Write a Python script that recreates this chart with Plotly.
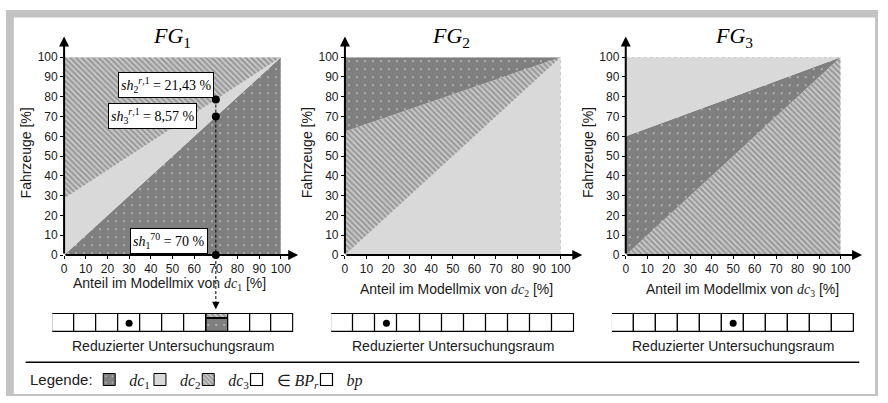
import plotly.graph_objects as go

W, H = 888, 403
def PX(x):
    return x / W
def PY(y):
    return 1 - y / H

# ---------------- data ----------------
MIX = [0, 100]                 # share of dc_n in the model mix [%]
FLOOR = [0, 0]
CEIL = [100, 100]
FG1_LOWER = [0, 100]           # boundary dc1 | dc2
FG1_UPPER = [28.57, 100]       # boundary dc2 | dc3
FG2_LOWER = [0, 100]           # boundary dc2 | dc3
FG2_UPPER = [62.5, 100]        # boundary dc3 | dc1
FG3_LOWER = [0, 100]           # boundary dc3 | dc1
FG3_UPPER = [60, 100]          # boundary dc1 | dc2
FG1_REGIONS = ["dc1", "dc2", "dc3"]   # bottom, middle, top
FG2_REGIONS = ["dc2", "dc3", "dc1"]
FG3_REGIONS = ["dc3", "dc1", "dc2"]

SEL_SHARE = 70
SEL_POINTS = [78.57, 70, 0]
SEL_LABELS = ["<i>sh</i><sub>2</sub><sup><i>r</i>,1</sup> = 21,43 %",
              "<i>sh</i><sub>3</sub><sup><i>r</i>,1</sup> = 8,57 %",
              "<i>sh</i><sub>1</sub><sup>70</sup> = 70 %"]
TICKS = list(range(0, 101, 10))

CELL_COUNT = 11
BP_CELL = [3, 2, 5]
SEL_CELL = 7
SEL_CELL_SHARES = [70, 8.57, 21.43]   # dc1, dc2, dc3 [%]

TITLES = ["<i>FG</i><sub>1</sub>", "<i>FG</i><sub>2</sub>", "<i>FG</i><sub>3</sub>"]
XTITLES = ["Anteil im Modellmix von <span style='font-family:Liberation Serif'><i>dc</i><sub>%d</sub></span> [%%]" % k for k in (1, 2, 3)]
YTITLE = "Fahrzeuge [%]"
STRIP_TITLE = "Reduzierter Untersuchungsraum"
DC_NAMES = ["<i>dc</i><sub>1</sub>", "<i>dc</i><sub>2</sub>", "<i>dc</i><sub>3</sub>"]

# ---------------- styles ----------------
DARK, LIGHT, HATCH_BG = "#7f7f7f", "#d9d9d9", "#cdcdcd"
STYLE = {
    "dc1": dict(color=DARK, pattern=dict(shape=".", bgcolor=DARK, fgcolor="white", size=8, solidity=0.05)),
    "dc2": dict(color=LIGHT, pattern=None),
    "dc3": dict(color=HATCH_BG, pattern=dict(shape="\\", bgcolor=HATCH_BG, fgcolor="#666666", size=4, solidity=0.55)),
}
SERIF = "Liberation Serif"
SANS = "Liberation Sans"
TXT = "#1a1a1a"

PANEL_X = [(62, 282), (347, 566), (632, 850)]
PANEL_Y = (257, 52)
STRIP_X = [(50, 295), (333, 580), (618, 864)]
STRIP_Y = (338, 317)      # pixel extent incl. small padding
STRIP_RANGE = [-0.05, 1.05]

fig = go.Figure()

panels = [(FG1_LOWER, FG1_UPPER, FG1_REGIONS),
          (FG2_LOWER, FG2_UPPER, FG2_REGIONS),
          (FG3_LOWER, FG3_UPPER, FG3_REGIONS)]

for i, (lower, upper, regions) in enumerate(panels):
    xa, ya = ("x", "y") if i == 0 else ("x%d" % (i + 1), "y%d" % (i + 1))
    bounds = [(FLOOR, lower), (lower, upper), (upper, CEIL)]
    for (lo, hi), dc in zip(bounds, regions):
        st = STYLE[dc]
        kw = dict(fillpattern=st["pattern"]) if st["pattern"] else {}
        fig.add_trace(go.Scatter(
            x=MIX + MIX[::-1], y=lo + hi[::-1], mode="lines", fill="toself",
            fillcolor=st["color"], line=dict(width=0), hoverinfo="skip",
            showlegend=False, xaxis=xa, yaxis=ya, **kw))

# selected point in FG1
fig.add_trace(go.Scatter(x=[SEL_SHARE, SEL_SHARE], y=[SEL_POINTS[0], SEL_POINTS[-1]], mode="lines",
                         line=dict(color="black", width=1, dash="3px,2px"), showlegend=False,
                         hoverinfo="skip", xaxis="x", yaxis="y", cliponaxis=False))
fig.add_trace(go.Scatter(x=[SEL_SHARE] * len(SEL_POINTS), y=SEL_POINTS, mode="markers",
                         marker=dict(color="black", size=8), showlegend=False,
                         xaxis="x", yaxis="y", cliponaxis=False))

# strips
for k in range(3):
    xa, ya = "x%d" % (k + 4), "y%d" % (k + 4)
    cell_x = [c + 0.5 for c in range(CELL_COUNT)]
    colors = ["white"] * CELL_COUNT
    if k == 0:
        base = 0
        for j, (dc, share) in enumerate(zip(["dc1", "dc2", "dc3"], SEL_CELL_SHARES)):
            st = STYLE[dc]
            mk = dict(color=st["color"], line=dict(width=1, color="black"))
            if st["pattern"]:
                mk["pattern"] = st["pattern"]
            fig.add_trace(go.Bar(x=[SEL_CELL + 0.5], y=[share / 100], base=[base / 100], width=[1],
                                 marker=mk, name=DC_NAMES[j], showlegend=True,
                                 legend="legend" if j == 0 else "legend%d" % (j + 1),
                                 xaxis=xa, yaxis=ya, cliponaxis=False, hoverinfo="skip"))
            base += share
        colors[SEL_CELL] = "rgba(0,0,0,0)"
    fig.add_trace(go.Bar(x=cell_x, y=[1] * CELL_COUNT, width=[1] * CELL_COUNT,
                         marker=dict(color=colors, line=dict(width=1.2, color="black")),
                         name="∈ <i>BP</i><sub><i>r</i></sub>" if k == 0 else " ",
                         showlegend=(k < 2), legend="legend4" if k == 0 else "legend5",
                         xaxis=xa, yaxis=ya, cliponaxis=False, hoverinfo="skip"))
    fig.add_trace(go.Scatter(x=[BP_CELL[k] + 0.5], y=[0.5], mode="markers",
                             marker=dict(color="black", size=7), name="<i>bp</i>",
                             showlegend=(k == 0), legend="legend6",
                             xaxis=xa, yaxis=ya, cliponaxis=False, hoverinfo="skip"))

layout = dict(width=W, height=H, margin=dict(l=0, r=0, t=0, b=0),
              paper_bgcolor="white", plot_bgcolor="rgba(0,0,0,0)",
              barmode="overlay", bargap=0, font=dict(family=SANS, color=TXT))

axis_common = dict(range=[0, 100], tickvals=TICKS, ticks="outside", ticklen=3, tickwidth=1,
                   tickcolor="black", showline=False, showgrid=False, zeroline=False,
                   tickfont=dict(size=12, color=TXT, family=SANS), fixedrange=True)
for i in range(3):
    sfx = "" if i == 0 else str(i + 1)
    layout["xaxis" + sfx] = dict(axis_common, domain=[PX(PANEL_X[i][0]), PX(PANEL_X[i][1])],
                                 anchor="y" + sfx)
    layout["yaxis" + sfx] = dict(axis_common, domain=[PY(PANEL_Y[0]), PY(PANEL_Y[1])],
                                 anchor="x" + sfx)
for k in range(3):
    sfx = str(k + 4)
    layout["xaxis" + sfx] = dict(range=[0, CELL_COUNT], domain=[PX(STRIP_X[k][0]), PX(STRIP_X[k][1])],
                                 visible=False, anchor="y" + sfx, fixedrange=True)
    layout["yaxis" + sfx] = dict(range=STRIP_RANGE, domain=[PY(STRIP_Y[0]), PY(STRIP_Y[1])],
                                 visible=False, anchor="x" + sfx, fixedrange=True)

# legends (swatch centre = x + 20 px)
LEG_Y = PY(386)
leg_centers = [107.5, 159, 208, 257, 328, 328]
names = ["legend", "legend2", "legend3", "legend4", "legend5", "legend6"]
for nm, cx in zip(names, leg_centers):
    layout[nm] = dict(x=PX(cx - 20), y=LEG_Y, xanchor="left", yanchor="middle",
                      orientation="h", bgcolor="rgba(0,0,0,0)", borderwidth=0,
                      font=dict(family=SERIF, size=16, color=TXT))

fig.update_layout(**layout)

ann = []
def txt(text, x, y, size=14, family=SANS, color=TXT, **kw):
    d = dict(text=text, x=PX(x), y=PY(y), xref="paper", yref="paper", showarrow=False,
             xanchor="center", yanchor="middle", font=dict(family=family, size=size, color=color))
    d.update(kw)
    return d

title_x = [172, 455, 742]
xt_pos = [(169, 287), (460, 293), (750, 293)]
yt_x = [23, 308, 593]
strip_cx = [172.5, 456.5, 741]
for i in range(3):
    ann.append(txt(TITLES[i], title_x[i], 31, size=22, family=SERIF, color="black"))
    ann.append(txt(XTITLES[i], xt_pos[i][0], xt_pos[i][1]))
    ann.append(txt(YTITLE, yt_x[i], 151, textangle=-90))
    ann.append(txt(STRIP_TITLE, strip_cx[i], 351))
    sfx = "" if i == 0 else str(i + 1)
    # axis arrows
    ann.append(dict(x=0, y=110.5, ax=0, ay=0, xref="x" + sfx, yref="y" + sfx, axref="x" + sfx,
                    ayref="y" + sfx, text="", showarrow=True, arrowhead=2, arrowsize=1,
                    arrowwidth=2, arrowcolor="black", standoff=0, startstandoff=0))
    ann.append(dict(x=108 if i == 0 else 110, y=0, ax=0, ay=0, xref="x" + sfx, yref="y" + sfx,
                    axref="x" + sfx, ayref="y" + sfx, text="", showarrow=True, arrowhead=2,
                    arrowsize=1, arrowwidth=2, arrowcolor="black", standoff=0, startstandoff=0))

# labels for selected point
lab_pos = [(46.9, 85.9), (41, 70.2), (48.3, 7.3)]
for (lx, ly), t in zip(lab_pos, SEL_LABELS):
    ann.append(dict(text=t, x=lx, y=ly, xref="x", yref="y", showarrow=False,
                    xanchor="center", yanchor="middle",
                    font=dict(family=SERIF, size=14, color="black"), bgcolor="white",
                    bordercolor="black", borderwidth=1, borderpad=2))
# arrow head to the strip cell
ann.append(dict(x=SEL_SHARE, y=PY(313), xref="x", yref="paper", ax=0, ay=-9, text="",
                showarrow=True, arrowhead=2, arrowsize=1, arrowwidth=1.5, arrowcolor="black",
                standoff=0))
ann.append(txt("Legende:", 25, 386, size=15, xanchor="left"))

shapes = [
    dict(type="rect", xref="paper", yref="paper", x0=PX(3), x1=PX(888), y0=PY(3), y1=PY(403),
         fillcolor="#c3c3c3", line=dict(width=0), layer="below"),
    dict(type="rect", xref="paper", yref="paper", x0=PX(11), x1=PX(885), y0=PY(11), y1=PY(401),
         fillcolor="white", line=dict(width=0), layer="below"),
    dict(type="line", xref="paper", yref="paper", x0=PX(23), x1=PX(869), y0=PY(368), y1=PY(368),
         line=dict(color="black", width=1.5)),
    dict(type="line", xref="x", yref="paper", x0=SEL_SHARE, x1=SEL_SHARE, y0=PY(258), y1=PY(305),
         line=dict(color="black", width=1, dash="3px,2px")),
]
for i in range(3):
    sfx = "" if i == 0 else str(i + 1)
    shapes.append(dict(type="line", xref="x" + sfx, yref="y" + sfx, x0=0, x1=100, y0=100, y1=100,
                       line=dict(color="#b0b0b0", width=1, dash="dot")))
    shapes.append(dict(type="line", xref="x" + sfx, yref="y" + sfx, x0=100, x1=100, y0=0, y1=100,
                       line=dict(color="#b0b0b0", width=1, dash="dot")))

fig.update_layout(annotations=ann, shapes=shapes)
fig.write_html("out.html", config={"displayModeBar": False},
               post_script="document.body.style.margin='0';document.body.style.overflow='hidden';")
